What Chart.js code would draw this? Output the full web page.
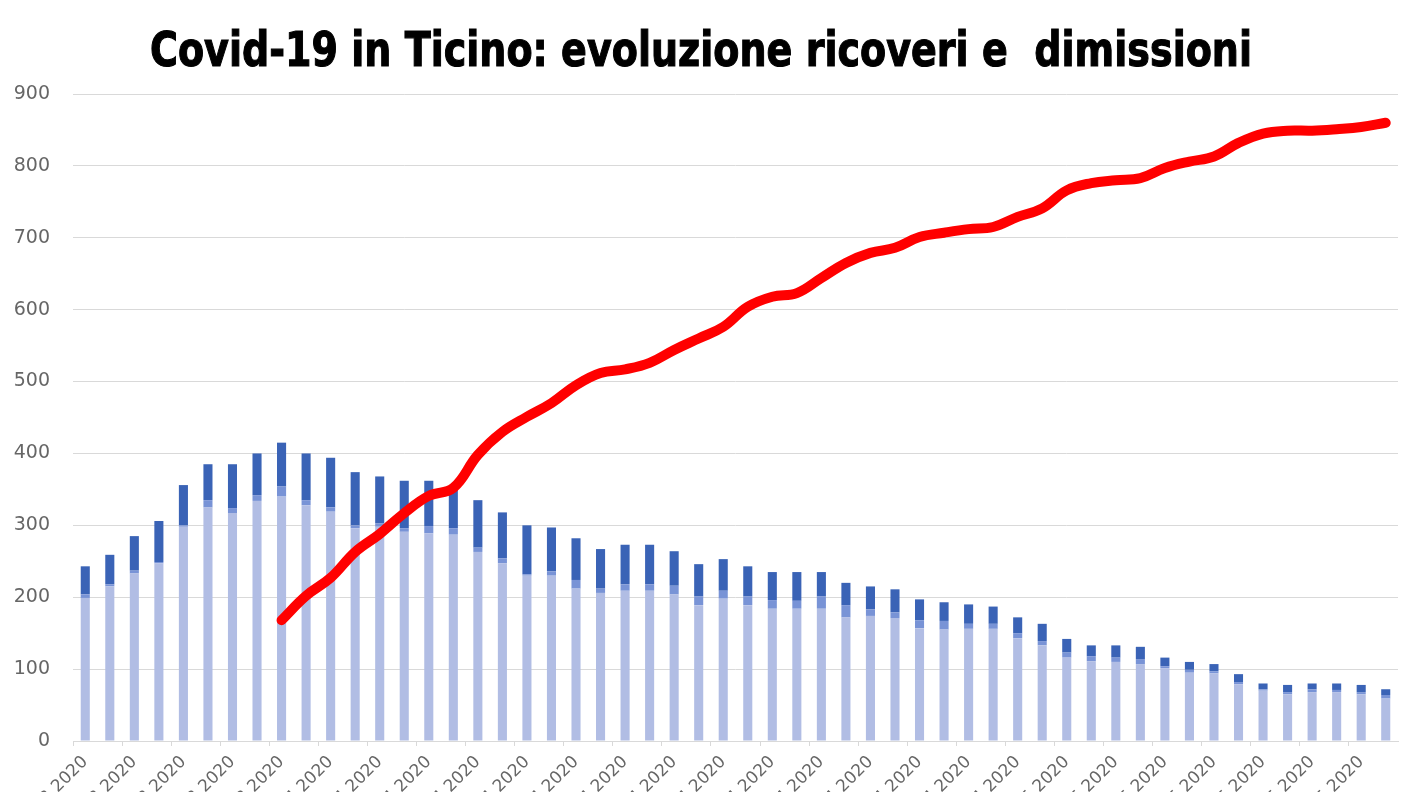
<!DOCTYPE html>
<html>
<head>
<meta charset="utf-8">
<title>Covid-19 in Ticino</title>
<script src="https://cdn.jsdelivr.net/npm/chart.js@4"></script>
<style>
  html, body { margin: 0; padding: 0; background: #fff; overflow: hidden; }
  #wrap { width: 1408px; height: 792px; position: relative; }
</style>
</head>
<body>
<div id="wrap"><canvas id="chart"></canvas></div>
<script>
// giorni (22.03.2020 - 14.05.2020)
const giorni = [
  '22.03.2020', '23.03.2020', '24.03.2020', '25.03.2020', '26.03.2020', '27.03.2020', '28.03.2020', '29.03.2020', '30.03.2020', '31.03.2020',
  '01.04.2020', '02.04.2020', '03.04.2020', '04.04.2020', '05.04.2020', '06.04.2020', '07.04.2020', '08.04.2020', '09.04.2020', '10.04.2020',
  '11.04.2020', '12.04.2020', '13.04.2020', '14.04.2020', '15.04.2020', '16.04.2020', '17.04.2020', '18.04.2020', '19.04.2020', '20.04.2020',
  '21.04.2020', '22.04.2020', '23.04.2020', '24.04.2020', '25.04.2020', '26.04.2020', '27.04.2020', '28.04.2020', '29.04.2020', '30.04.2020',
  '01.05.2020', '02.05.2020', '03.05.2020', '04.05.2020', '05.05.2020', '06.05.2020', '07.05.2020', '08.05.2020', '09.05.2020', '10.05.2020',
  '11.05.2020', '12.05.2020', '13.05.2020', '14.05.2020'
];

// ricoverati in reparto (parte chiara)
const ricoverati = [
  199, 215, 233, 247, 298, 325, 317, 334, 340, 328,
  319, 296, 298, 291, 289, 287, 263, 247, 230, 230,
  212, 206, 209, 209, 204, 189, 198, 189, 184, 184,
  184, 172, 174, 171, 157, 155, 156, 156, 143, 133,
  116, 111, 110, 107, 101, 95, 94, 79, 70, 65,
  68, 68, 65, 59
];
// parte intermedia
const cureIntense = [
  5, 3, 4, 2, 2, 10, 7, 8, 14, 7,
  6, 4, 5, 5, 10, 9, 6, 7, 2, 6,
  12, 6, 9, 9, 12, 12, 11, 12, 12, 11,
  17, 17, 9, 8, 11, 12, 7, 7, 7, 6,
  7, 7, 6, 7, 3, 4, 3, 3, 2, 3,
  4, 3, 3, 5
];
// parte scura
const intubati = [
  39, 41, 48, 57, 56, 50, 61, 58, 61, 65,
  69, 74, 65, 66, 63, 59, 66, 64, 68, 61,
  58, 55, 55, 55, 48, 45, 44, 42, 39, 40,
  34, 31, 32, 32, 29, 26, 27, 24, 22, 24,
  19, 15, 17, 17, 12, 11, 10, 11, 8, 10,
  8, 9, 10, 8
];
// dimissioni cumulative (linea rossa)
const dimissioni = [
  null, null, null, null, null, null, null, null, 168, 202,
  227, 263, 288, 317, 341, 352, 398, 430, 451, 470,
  495, 512, 517, 526, 544, 560, 576, 604, 618, 623,
  644, 665, 679, 686, 701, 707, 712, 715, 729, 741,
  766, 776, 780, 783, 797, 806, 813, 832, 845, 849,
  849, 851, 854, 860
];
const yTicks = [0, 100, 200, 300, 400, 500, 600, 700, 800, 900];
const titolo = 'Covid-19 in Ticino: evoluzione ricoveri e  dimissioni';

const grigio = '#d9d9d9';
const testo = '#666666';

// titolo stretto (font condensato non disponibile, quindi lo comprimo in orizzontale)
const titoloPlugin = {
  id: 'titoloStretto',
  afterDraw(chart) {
    const c = chart.ctx;
    c.save();
    c.font = 'bold 48px "DejaVu Sans", sans-serif';
    c.fillStyle = '#000';
    c.strokeStyle = '#000';
    c.lineWidth = 1.2;
    c.textAlign = 'center';
    c.textBaseline = 'alphabetic';
    const w = c.measureText(titolo).width;
    c.translate(701, 66);
    c.scale(1102 / w, 1);
    c.fillText(titolo, 0, 0);
    c.strokeText(titolo, 0, 0);
    c.restore();
  }
};

const ctx = document.getElementById('chart');
new Chart(ctx, {
  type: 'bar',
  data: {
    labels: giorni,
    datasets: [
      {
        type: 'line',
        label: 'Dimissioni',
        data: dimissioni,
        borderColor: '#ff0000',
        borderWidth: 10,
        borderCapStyle: 'round',
        borderJoinStyle: 'round',
        tension: 0.4,
        pointRadius: 0,
        fill: false,
        stack: 'linea',
        order: 0
      },
      {
        label: 'Ricoverati',
        data: ricoverati,
        backgroundColor: '#b1bde4',
        stack: 'barre',
        order: 1
      },
      {
        label: 'Cure intense',
        data: cureIntense,
        backgroundColor: '#7893d6',
        stack: 'barre',
        order: 1
      },
      {
        label: 'Intubati',
        data: intubati,
        backgroundColor: '#3a63b6',
        stack: 'barre',
        order: 1
      }
    ]
  },
  options: {
    responsive: true,
    maintainAspectRatio: false,
    animation: false,
    devicePixelRatio: 1,
    layout: { padding: { left: 0, right: 10, top: 94, bottom: 0 } },
    datasets: {
      bar: { categoryPercentage: 1, barPercentage: 0.37 }
    },
    plugins: {
      legend: { display: false },
      tooltip: { enabled: false },
      title: { display: false }
    },
    scales: {
      x: {
        stacked: true,
        grid: {
          display: true,
          drawOnChartArea: false,
          drawTicks: true,
          tickLength: 5,
          color: (c) => (c.index % 2 === 0 ? grigio : 'rgba(0,0,0,0)')
        },
        border: { display: true, color: grigio },
        ticks: {
          autoSkip: false,
          minRotation: 45,
          maxRotation: 45,
          padding: 6,
          color: testo,
          font: { family: '"DejaVu Sans", sans-serif', size: 17 },
          callback: function (v, i) { return i % 2 === 0 ? this.getLabelForValue(v) : ''; }
        },
        afterFit: (scale) => { scale.height = 51; }
      },
      y: {
        stacked: true,
        min: 0,
        max: 900,
        afterBuildTicks: (scale) => { scale.ticks = yTicks.map(v => ({ value: v })); },
        grid: { color: grigio, drawTicks: false },
        border: { display: false },
        ticks: {
          padding: 23,
          color: testo,
          font: { family: '"DejaVu Sans", sans-serif', size: 19 }
        },
        afterFit: (scale) => { scale.width = 73; }
      }
    }
  },
  plugins: [titoloPlugin]
});
</script>
</body>
</html>
